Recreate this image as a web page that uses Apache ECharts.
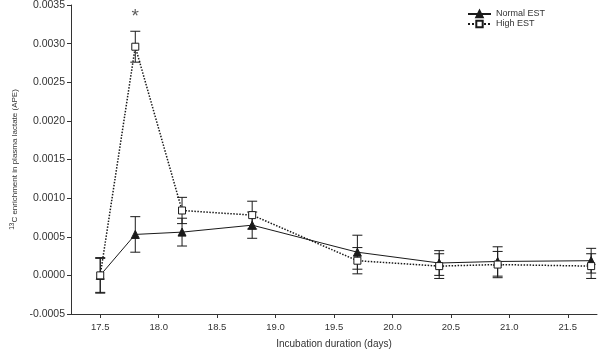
<!DOCTYPE html>
<html>
<head>
<meta charset="utf-8">
<script src="https://cdn.jsdelivr.net/npm/echarts@6/dist/echarts.min.js"></script>
<style>html,body{margin:0;padding:0;background:#fff}#c{width:600px;height:350px}</style>
</head>
<body>
<div id="c"></div>
<script>
const xValues = [17.5, 17.8, 18.2, 18.8, 19.7, 20.4, 20.9, 21.7];
const normalMean = [0.0000, 0.00053, 0.00056, 0.00065, 0.00030, 0.00016, 0.00018, 0.00019];
const normalErr  = [0.00022, 0.00023, 0.00018, 0.00017, 0.00022, 0.00016, 0.00019, 0.00016];
const highMean   = [0.0000, 0.00296, 0.00084, 0.00078, 0.00019, 0.00012, 0.00014, 0.00012];
const highErr    = [0.00023, 0.00020, 0.00017, 0.00018, 0.00017, 0.00016, 0.00017, 0.00016];
const xTickValues = [17.5, 18.0, 18.5, 19.0, 19.5, 20.0, 20.5, 21.0, 21.5];
const seriesNames = ['Normal EST', 'High EST'];
const sigX = 17.8, sigY = 0.0034, sigLabel = '*';

const FONT = 'Liberation Sans, Arial, sans-serif';
const INK = '#1a1a1a';
const TXT = '#333';

function errData(mean, err) {
  return xValues.map((x, i) => [x, mean[i] - err[i], mean[i] + err[i]]);
}
function errRender(params, api) {
  const x = api.value(0);
  const lo = api.coord([x, api.value(1)]);
  const hi = api.coord([x, api.value(2)]);
  const w = 5;
  const st = { stroke: INK, lineWidth: 1 };
  return {
    type: 'group',
    children: [
      { type: 'line', shape: { x1: lo[0], y1: lo[1], x2: hi[0], y2: hi[1] }, style: st },
      { type: 'line', shape: { x1: hi[0] - w, y1: hi[1], x2: hi[0] + w, y2: hi[1] }, style: st },
      { type: 'line', shape: { x1: lo[0] - w, y1: lo[1], x2: lo[0] + w, y2: lo[1] }, style: st }
    ]
  };
}

const chart = echarts.init(document.getElementById('c'), null, { renderer: 'canvas' });
chart.setOption({
  animation: false,
  backgroundColor: '#fff',
  textStyle: { fontFamily: FONT },
  grid: { left: 71, right: 3, top: 5, bottom: 36, containLabel: false, outerBoundsMode: 'none' },
  legend: {
    orient: 'vertical',
    left: 467, top: 9, padding: 0,
    itemWidth: 23, itemHeight: 8, itemGap: 0,
    textStyle: { fontSize: 9, color: TXT, fontFamily: FONT, lineHeight: 10 },
    data: seriesNames
  },
  xAxis: {
    type: 'value',
    min: 17.25, max: 21.75,
    name: 'Incubation duration (days)',
    nameLocation: 'middle', nameGap: 25,
    nameTextStyle: { fontSize: 10, color: TXT },
    axisLine: { onZero: false, lineStyle: { color: '#333', width: 1 } },
    axisTick: { show: true, length: 4, customValues: xTickValues, lineStyle: { color: '#333' } },
    axisLabel: {
      customValues: xTickValues, fontSize: 9.5, color: TXT, margin: 8,
      formatter: v => v.toFixed(1)
    },
    splitLine: { show: false }
  },
  yAxis: {
    type: 'value',
    min: -0.0005, max: 0.0035, interval: 0.0005,
    name: '{sup|13}{base|C enrichment in plasma lactate (APE)}',
    nameLocation: 'middle', nameGap: 50, nameRotate: 90,
    nameTextStyle: {
      rich: {
        sup: { fontSize: 6.5, color: TXT, verticalAlign: 'top', padding: [0, 0, 5, 0] },
        base: { fontSize: 8, color: TXT }
      }
    },
    axisLine: { show: true, lineStyle: { color: '#333', width: 1 } },
    axisTick: { show: true, length: 4, lineStyle: { color: '#333' } },
    axisLabel: { fontSize: 10.5, color: TXT, margin: 6, formatter: v => v.toFixed(4) },
    splitLine: { show: false }
  },
  series: [
    {
      type: 'custom', name: 'normal-err', silent: true, z: 1,
      renderItem: errRender, data: errData(normalMean, normalErr),
      encode: { x: 0, y: [1, 2] }
    },
    {
      type: 'custom', name: 'high-err', silent: true, z: 1,
      renderItem: errRender, data: errData(highMean, highErr),
      encode: { x: 0, y: [1, 2] }
    },
    {
      type: 'line', name: seriesNames[0], z: 3,
      data: xValues.map((x, i) => [x, normalMean[i]]),
      symbol: 'triangle', symbolSize: 8, showAllSymbol: true,
      lineStyle: { color: INK, width: 1, type: 'solid' },
      itemStyle: { color: INK, borderColor: INK, borderWidth: 1 }
    },
    {
      type: 'line', name: seriesNames[1], z: 4,
      data: xValues.map((x, i) => [x, highMean[i]]),
      symbol: 'rect', symbolSize: 7, showAllSymbol: true,
      lineStyle: { color: INK, width: 1.5, type: 'dotted' },
      itemStyle: { color: '#fff', borderColor: INK, borderWidth: 1 }
    },
    {
      type: 'scatter', name: 'sig', silent: true, z: 5,
      data: [[sigX, sigY]],
      symbol: 'circle', symbolSize: 14,
      itemStyle: { color: 'rgba(0,0,0,0)' },
      label: { show: true, position: 'inside', offset: [0, 4], formatter: sigLabel, fontSize: 19, color: '#333' }
    }
  ]
});
</script>
</body>
</html>
